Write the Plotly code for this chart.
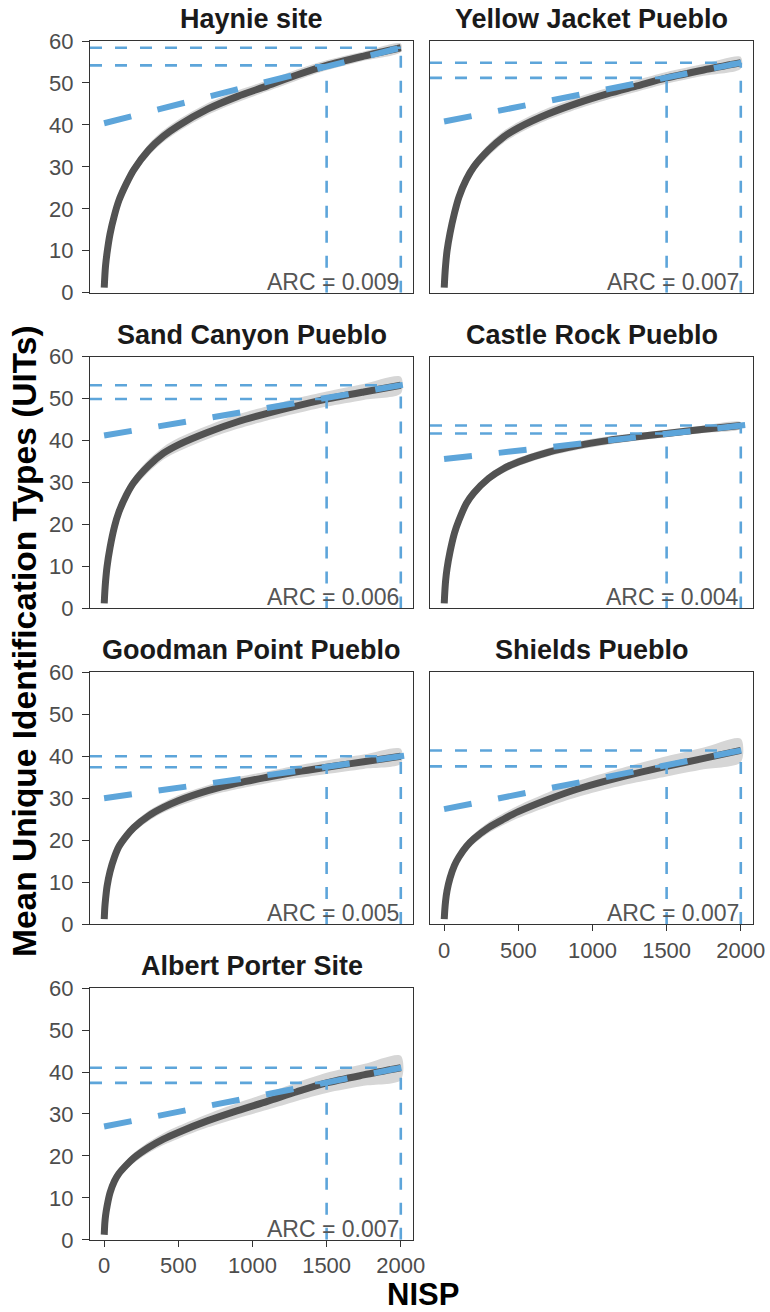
import plotly.graph_objects as go

# ---- data -------------------------------------------------------------
sites = ["Haynie site", "Yellow Jacket Pueblo", "Sand Canyon Pueblo",
         "Castle Rock Pueblo", "Goodman Point Pueblo", "Shields Pueblo",
         "Albert Porter Site"]

nisp = [1, 5, 10, 20, 40, 70, 100, 150, 200, 300, 400, 500, 700, 900,
        1100, 1300, 1500, 1750, 2000]

haynie_mean = [1.2, 4.0, 6.5, 9.5, 14.0, 18.5, 22.0, 26.0, 29.3, 34.0, 37.3,
               39.8, 43.8, 46.8, 49.3, 51.9, 54.2, 56.4, 58.4]
haynie_ci = [0.0, 0.3, 0.5, 0.7, 0.9, 1.1, 1.2, 1.3, 1.3, 1.4, 1.4, 1.4, 1.4,
             1.4, 1.3, 1.3, 1.2, 1.1, 1.0]

yellow_jacket_mean = [1.2, 4.0, 6.5, 10.0, 14.2, 19.0, 22.8, 27.0, 30.0, 34.0,
                      37.1, 39.3, 42.6, 45.2, 47.4, 49.3, 51.2, 53.1, 54.8]
yellow_jacket_ci = [0.0, 0.3, 0.5, 0.7, 0.9, 1.1, 1.2, 1.3, 1.3, 1.4, 1.4,
                    1.4, 1.4, 1.4, 1.4, 1.4, 1.4, 1.4, 1.4]

sand_canyon_mean = [1.2, 4.0, 6.5, 10.0, 14.5, 19.5, 23.0, 27.0, 30.0, 34.0,
                    37.0, 39.0, 42.0, 44.5, 46.5, 48.3, 49.9, 51.6, 53.2]
sand_canyon_ci = [0.0, 0.3, 0.5, 0.7, 0.9, 1.1, 1.2, 1.3, 1.4, 1.5, 1.5,
                  1.6, 1.6, 1.7, 1.7, 1.8, 1.8, 1.9, 2.0]

castle_rock_mean = [1.2, 4.0, 6.5, 9.5, 13.5, 18.0, 21.0, 25.0, 27.5, 31.0,
                    33.3, 34.9, 37.2, 38.8, 40.0, 40.9, 41.7, 42.7, 43.6]
castle_rock_ci = [0.0, 0.3, 0.5, 0.6, 0.8, 0.9, 1.0, 1.0, 1.0, 1.0, 1.0,
                  1.0, 1.0, 1.0, 1.0, 0.9, 0.9, 0.9, 0.8]

goodman_point_mean = [1.2, 4.0, 6.0, 9.0, 12.5, 16.0, 18.5, 21.0, 23.0, 25.8,
                      27.8, 29.4, 31.8, 33.6, 35.0, 36.3, 37.4, 38.7, 40.0]
goodman_point_ci = [0.0, 0.3, 0.5, 0.6, 0.8, 0.9, 1.0, 1.1, 1.1, 1.2, 1.2,
                    1.3, 1.3, 1.4, 1.4, 1.5, 1.6, 1.7, 1.8]

shields_mean = [1.2, 3.5, 5.5, 8.0, 11.0, 14.0, 16.0, 18.5, 20.3, 23.0, 25.0,
                26.8, 29.7, 32.2, 34.2, 36.0, 37.6, 39.5, 41.4]
shields_ci = [0.0, 0.3, 0.5, 0.6, 0.8, 0.9, 1.0, 1.1, 1.2, 1.3, 1.4, 1.5,
              1.7, 1.9, 2.0, 2.2, 2.4, 2.6, 2.8]

albert_porter_mean = [1.2, 4.0, 5.8, 8.0, 11.2, 14.0, 15.8, 17.8, 19.5, 22.0,
                      24.0, 25.6, 28.4, 30.8, 33.0, 35.3, 37.4, 39.3, 41.0]
albert_porter_ci = [0.0, 0.3, 0.5, 0.6, 0.8, 0.9, 1.0, 1.1, 1.2, 1.3, 1.4,
                    1.5, 1.6, 1.8, 2.0, 2.2, 2.4, 2.6, 2.9]

uit_at_1500 = [54.2, 51.2, 49.9, 41.7, 37.4, 37.6, 37.4]
uit_at_2000 = [58.4, 54.8, 53.2, 43.6, 40.0, 41.4, 41.0]
arc_values = [0.009, 0.007, 0.006, 0.004, 0.005, 0.007, 0.007]

x_ticks = [0, 500, 1000, 1500, 2000]
y_ticks = [0, 10, 20, 30, 40, 50, 60]

site_means = [haynie_mean, yellow_jacket_mean, sand_canyon_mean,
              castle_rock_mean, goodman_point_mean, shields_mean,
              albert_porter_mean]
site_cis = [haynie_ci, yellow_jacket_ci, sand_canyon_ci, castle_rock_ci,
            goodman_point_ci, shields_ci, albert_porter_ci]

# ---- style / layout -----------------------------------------------------
W, H = 770, 1312
FONT = "Liberation Sans, Arial, sans-serif"
BLUE = "#5DA5DA"
CURVE = "#525252"
BAND = "#D6D6D6"
FRAME = "#333333"
X_RANGE = [-95, 2085]
Y_RANGE = [0, 60]

col_left = [90, 430]
panel_w = 323.4
row_top0, row_bot0, row_pitch = 41.0, 292.7, 315.7

fig = go.Figure()
layout = dict(
    width=W, height=H, margin=dict(l=0, r=0, t=0, b=0, autoexpand=False),
    paper_bgcolor="white", plot_bgcolor="white", showlegend=False,
    font=dict(family=FONT, color="#4D4D4D"),
)
annotations = []


def px_x(px):
    return px / W


def px_y(py):
    return 1 - py / H


for i, site in enumerate(sites):
    row, col = divmod(i, 2)
    xa = "x" if i == 0 else f"x{i + 1}"
    ya = "y" if i == 0 else f"y{i + 1}"
    left = col_left[col]
    top = row_top0 + row * row_pitch
    bottom = row_bot0 + row * row_pitch

    mean = site_means[i]
    ci = site_cis[i]
    upper = [m + c for m, c in zip(mean, ci)]
    lower = [m - c for m, c in zip(mean, ci)]

    # confidence band
    fig.add_trace(go.Scatter(
        x=nisp + nisp[::-1], y=upper + lower[::-1], xaxis=xa, yaxis=ya,
        fill="toself", fillcolor=BAND, mode="lines",
        line=dict(width=0, color=BAND, shape="spline", smoothing=0.8),
        hoverinfo="skip"))
    # rarefaction curve
    fig.add_trace(go.Scatter(
        x=nisp, y=mean, xaxis=xa, yaxis=ya, mode="lines",
        line=dict(color=CURVE, width=7, shape="spline", smoothing=0.8),
        name=site))

    y15, y20, arc = uit_at_1500[i], uit_at_2000[i], arc_values[i]

    # reference guides at NISP 1500 and 2000
    thin = dict(color=BLUE, width=2.6, dash="12px,13px")
    for xv, yv in ((1500, y15), (2000, y20)):
        fig.add_trace(go.Scatter(
            x=[X_RANGE[0], xv], y=[yv, yv], xaxis=xa, yaxis=ya,
            mode="lines", line=thin, hoverinfo="skip"))
        fig.add_trace(go.Scatter(
            x=[xv, xv], y=[0, yv], xaxis=xa, yaxis=ya,
            mode="lines", line=thin, hoverinfo="skip"))

    # tangent line with slope = ARC through the NISP 2000 value
    x_end = X_RANGE[1]
    fig.add_trace(go.Scatter(
        x=[0, x_end], y=[y20 - arc * 2000, y20 + arc * (x_end - 2000)],
        xaxis=xa, yaxis=ya, mode="lines",
        line=dict(color=BLUE, width=6, dash="28px,27px"),
        hoverinfo="skip"))

    # ARC label, right-aligned at NISP 2000 on the panel floor
    annotations.append(dict(
        text=f"ARC = {arc:.3f}", x=2000, y=0, xref=xa, yref=ya,
        xanchor="right", yanchor="bottom", yshift=-4, showarrow=False,
        font=dict(family=FONT, size=23, color="#555555")))

    show_x = i in (5, 6)
    show_y = col == 0
    layout["xaxis" if i == 0 else f"xaxis{i + 1}"] = dict(
        domain=[px_x(left), px_x(left + panel_w)], anchor=ya,
        range=X_RANGE, tickvals=x_ticks, showticklabels=show_x,
        ticks="outside" if show_x else "", ticklen=6, tickwidth=1.3,
        tickcolor=FRAME, showline=True, mirror=True, linecolor=FRAME,
        linewidth=1.3, showgrid=False, zeroline=False, automargin=False,
        tickfont=dict(family=FONT, size=22, color="#4D4D4D"))
    layout["yaxis" if i == 0 else f"yaxis{i + 1}"] = dict(
        domain=[px_y(bottom), px_y(top)], anchor=xa,
        range=Y_RANGE, tickvals=y_ticks, showticklabels=show_y,
        ticks="outside" if show_y else "", ticklen=7, tickwidth=1.3,
        tickcolor=FRAME, showline=True, mirror=True, linecolor=FRAME,
        linewidth=1.3, showgrid=False, zeroline=False, automargin=False,
        ticklabelstandoff=4,
        tickfont=dict(family=FONT, size=22, color="#4D4D4D"))

    annotations.append(dict(
        text=f"<b>{site}</b>", x=px_x(left + panel_w / 2),
        y=px_y(top - 22), xref="paper", yref="paper",
        xanchor="center", yanchor="middle", showarrow=False,
        font=dict(family=FONT, size=27, color="#1A1A1A")))

annotations.append(dict(
    text="<b>Mean Unique Identification Types (UITs)</b>",
    x=px_x(24), y=px_y(641), xref="paper", yref="paper",
    xanchor="center", yanchor="middle", textangle=-90, showarrow=False,
    font=dict(family=FONT, size=33.5, color="black")))
annotations.append(dict(
    text="<b>NISP</b>", x=px_x(423), y=px_y(1294), xref="paper",
    yref="paper", xanchor="center", yanchor="middle", showarrow=False,
    font=dict(family=FONT, size=31, color="black")))

layout["annotations"] = annotations
fig.update_layout(**layout)
fig.write_html("out.html")
